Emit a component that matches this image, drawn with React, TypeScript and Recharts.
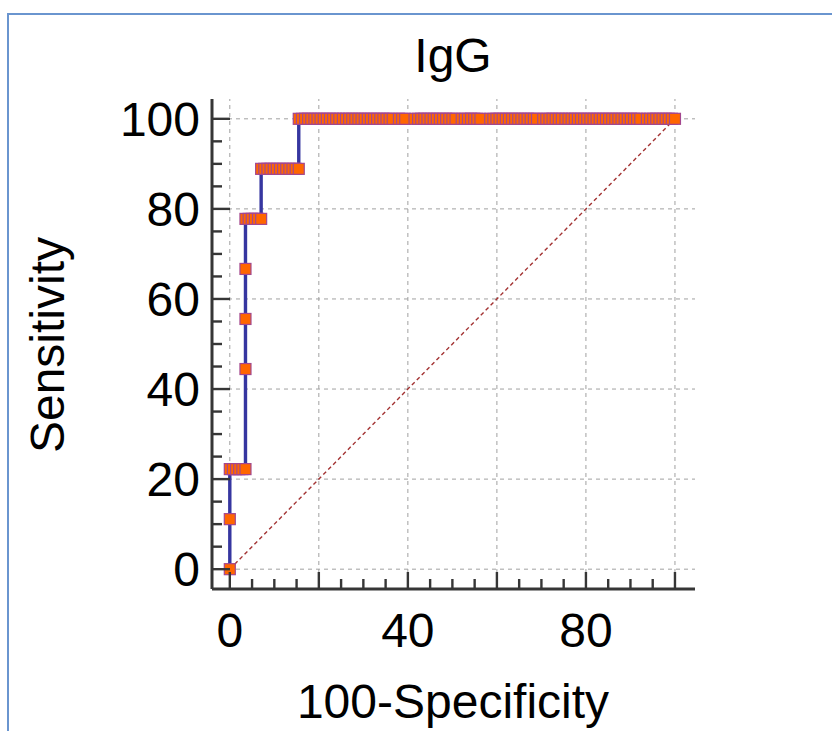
import React from "react"
import { ComposedChart, Line, XAxis, YAxis, ReferenceLine } from "recharts"

// sensitivity levels (9 positive cases) and the 100-specificity values plotted at each level
const sensLevels = [0, 11.11, 22.22, 44.44, 55.56, 66.67, 77.78, 88.89, 100]

const fprAt0 = [0]
const fprAt11 = [0]
const fprAt22 = [0, 0.7, 1.41, 2.11, 2.82, 3.52]
const fprAt44 = [3.52]
const fprAt56 = [3.52]
const fprAt67 = [3.52]
const fprAt78 = [3.52, 4.23, 4.93, 5.63, 6.34, 7.04]
const fprAt89 = [7.04, 7.75, 8.45, 9.15, 9.86, 10.56, 11.27, 11.97, 12.68, 13.38, 14.08, 14.79, 15.49]
const fprAt100 = [
    15.49, 16.2, 16.9, 17.6, 18.3, 19.0, 19.7, 20.4, 21.1, 21.8, 22.5, 23.2, 23.9, 24.6, 25.4,
    26.1, 26.8, 27.5, 28.2, 28.9, 29.6, 30.3, 31.0, 31.7, 32.4, 33.1, 33.8, 34.5, 35.2, 35.9,
    36.6, 38.0, 38.7, 39.4, 41.5, 42.3, 43.0, 43.7, 44.4, 45.1, 45.8, 46.5, 47.2, 47.9, 48.6,
    49.3, 50.0, 50.7, 52.1, 52.8, 53.5, 54.2, 54.9, 55.6, 56.3, 58.5, 59.2, 59.9, 60.6, 61.3,
    62.0, 62.7, 63.4, 64.1, 64.8, 65.5, 66.2, 66.9, 67.6, 68.3, 69.0, 70.4, 71.1, 71.8, 72.5,
    73.2, 73.9, 74.6, 75.4, 76.1, 76.8, 77.5, 78.2, 78.9, 79.6, 80.3, 81.0, 81.7, 82.4, 83.1,
    83.8, 84.5, 85.2, 85.9, 86.6, 87.3, 88.0, 88.7, 89.4, 90.1, 90.8, 91.5, 92.2, 93.7, 94.4,
    95.1, 95.8, 96.5, 97.2, 97.9, 98.6, 99.3, 100,
]
const fprByLevel = [fprAt0, fprAt11, fprAt22, fprAt44, fprAt56, fprAt67, fprAt78, fprAt89, fprAt100]

const axisTicks = [0, 5, 10, 15, 20, 25, 30, 35, 40, 45, 50, 55, 60, 65, 70, 75, 80, 85, 90, 95, 100]
const gridValues = [0, 20, 40, 60, 80, 100]
const xLabels = [0, 40, 80]
const yLabels = [0, 20, 40, 60, 80, 100]

const rocData = sensLevels.flatMap((s, i) => fprByLevel[i].map((x) => ({ x, y: s })))

const FONT = "'Liberation Sans', Arial, sans-serif"
const AXIS = "#363636"

const XTick = (props: any) => {
    const { x, y, payload } = props
    const v = payload.value
    const len = v % 20 === 0 ? 17 : 10
    return (
        <g>
            <line x1={x} y1={y} x2={x} y2={y - len} stroke={AXIS} strokeWidth={2.4} />
            {xLabels.includes(v) && (
                <text x={x} y={y + 58} textAnchor="middle" fontSize={48} fontFamily={FONT} fill="#000">
                    {v}
                </text>
            )}
        </g>
    )
}

const YTick = (props: any) => {
    const { x, y, payload } = props
    const v = payload.value
    const len = v % 20 === 0 ? 18 : 10
    return (
        <g>
            <line x1={x} y1={y} x2={x + len} y2={y} stroke={AXIS} strokeWidth={2.4} />
            {yLabels.includes(v) && (
                <text x={x - 12} y={y + 17} textAnchor="end" fontSize={48} fontFamily={FONT} fill="#000">
                    {v}
                </text>
            )}
        </g>
    )
}

const SquareDot = (props: any) => {
    const { cx, cy, index } = props
    if (cx == null || cy == null) return <g key={index} />
    return (
        <rect key={index} x={cx - 5.5} y={cy - 5.5} width={11} height={11}
            fill="#ff6600" stroke="#a3478f" strokeWidth={1.2} />
    )
}

export default function App() {
    return (
        <div style={{ position: "absolute", left: 0, top: 0, width: 832, height: 731, overflow: "hidden", background: "#fff" }}>
            <div style={{ position: "absolute", left: 7, top: 13, width: 830, height: 720, borderLeft: "2px solid #6a95cf", borderTop: "2px solid #6a95cf" }} />
            <div style={{ position: "absolute", left: 0, top: 0 }}>
                <ComposedChart width={832} height={731} data={rocData}
                    margin={{ top: 99, right: 137, left: 0, bottom: 82 }}>
                    {gridValues.map((v) => (
                        <ReferenceLine key={"gx" + v} x={v} stroke="#a0a0a0" strokeDasharray="4 4" />
                    ))}
                    {gridValues.map((v) => (
                        <ReferenceLine key={"gy" + v} y={v} stroke="#a0a0a0" strokeDasharray="4 4" />
                    ))}
                    <ReferenceLine segment={[{ x: 0, y: 0 }, { x: 100, y: 100 }]}
                        stroke="#a33333" strokeDasharray="4 3" strokeWidth={1.4} />
                    <XAxis type="number" dataKey="x" domain={[-4, 104.5]} ticks={axisTicks}
                        interval={0} height={60} tickSize={0} tickMargin={0} tickLine={false}
                        axisLine={{ stroke: AXIS, strokeWidth: 3 }} tick={<XTick />} allowDataOverflow />
                    <YAxis type="number" dataKey="y" domain={[-4.4, 104.4]} ticks={axisTicks}
                        interval={0} width={212} tickSize={0} tickMargin={0} tickLine={false}
                        axisLine={{ stroke: AXIS, strokeWidth: 3 }} tick={<YTick />} allowDataOverflow />
                    <Line type="linear" dataKey="y" stroke="#3636a0" strokeWidth={3.4}
                        dot={SquareDot} activeDot={false} isAnimationActive={false} />
                </ComposedChart>
            </div>
            <svg width={832} height={731} style={{ position: "absolute", left: 0, top: 0, pointerEvents: "none" }}>
                <text x={453} y={72} textAnchor="middle" fontSize={48} fontFamily={FONT} fill="#000">IgG</text>
                <text x={453} y={718} textAnchor="middle" fontSize={48} fontFamily={FONT} fill="#000">100-Specificity</text>
                <text transform="translate(64,345) rotate(-90)" textAnchor="middle" fontSize={48} fontFamily={FONT} fill="#000">Sensitivity</text>
            </svg>
        </div>
    )
}
